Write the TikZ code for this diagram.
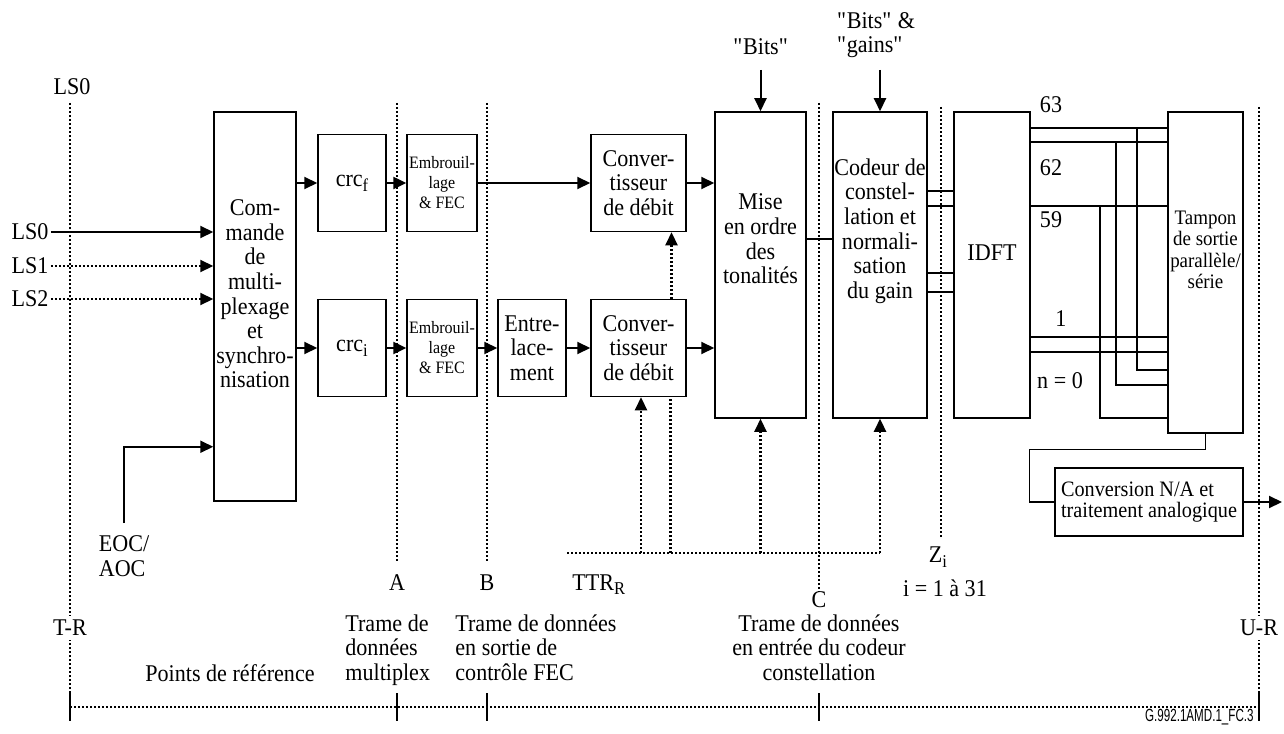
\documentclass[tikz,border=0pt]{standalone}
\usepackage{fontspec}
\setmainfont{Liberation Serif}[FakeStretch=0.92]
\newfontfamily\figfont{Liberation Sans}[FakeStretch=0.66]
\usetikzlibrary{arrows.meta,calc}
\newcommand{\lowsub}[1]{\raisebox{-0.45ex}{\fontsize{9}{9}\selectfont #1}}

\begin{document}
\begin{tikzpicture}[
  x=0.5pt, y=-0.5pt,
  every node/.style={font=\fontsize{12}{12.3}\selectfont},
  blk/.style={draw, line width=0.75pt, fill=white, align=center, inner sep=1pt},
  txt/.style={align=center, inner sep=1pt},
  wire/.style={line width=1pt},
  fine/.style={line width=0.6pt},
  arr/.style={wire, -{Triangle[length=6.5pt,width=6pt]}},
  dots/.style={line width=1.1pt, dash pattern=on 1pt off 1pt},
  dotarr/.style={dots, -{Triangle[length=6.5pt,width=6pt]}},
  smallfont/.style={font=\fontsize{8.7}{10}\selectfont},
  bufffont/.style={font=\fontsize{10.3}{10.7}\selectfont},
  dacfont/.style={font=\fontsize{11}{10.5}\selectfont},
]
  \useasboundingbox (0,0) rectangle (1284,733);

  % --- Reference points (dotted verticals) ---
  \foreach \x/\t/\b in {70/103/707, 397/103/563, 487/103/563,
                        819/103/592, 941/107/537, 1259/107/707}
    \draw[dots] (\x,\t) -- (\x,\b);
  \draw[dots] (70,707) -- (1259,707);
  \foreach \x in {70,397,487,819,1259}
    \draw[fine, line width=0.8pt] (\x,693) -- (\x,721);

  % --- Blocks ---
  \node[blk, minimum width=41pt, minimum height=194.5pt] (cmd) at (255,306.5) {};
  \node[blk, minimum width=34pt, minimum height=48.5pt] (crcf) at (352,183) {crc\lowsub{f}};
  \node[blk, minimum width=34pt, minimum height=48.5pt] (crci) at (352,348) {crc\lowsub{i}};
  \node[blk, smallfont, minimum width=34pt, minimum height=48.5pt] (embf) at (442,183) {Embrouil-\\lage\\\& FEC};
  \node[blk, smallfont, minimum width=34pt, minimum height=48.5pt] (embi) at (442,348) {Embrouil-\\lage\\\& FEC};
  \node[blk, minimum width=34pt, minimum height=48.5pt] (entrel) at (532,348) {Entre-\\lace-\\ment};
  \node[blk, minimum width=47.5pt, minimum height=48.5pt] (convf) at (638.5,183) {Conver-\\tisseur\\de débit};
  \node[blk, minimum width=47.5pt, minimum height=48.5pt] (convi) at (638.5,348) {Conver-\\tisseur\\de débit};
  \node[blk, minimum width=45.5pt, minimum height=153pt] (mise) at (760.5,265) {};
  \node[blk, minimum width=47pt, minimum height=153pt] (codeur) at (880,265) {};
  \node[blk, minimum width=38pt, minimum height=153pt] (idft) at (992,265) {};
  \node[blk, minimum width=37.5pt, minimum height=160.5pt] (tampon) at (1205.5,272.5) {};
  \node[blk, dacfont, align=left, minimum width=94pt, minimum height=34pt] (cna) at (1149,502)
    {Conversion N/A et\\traitement analogique};

  % --- Block texts ---
  \node[txt] (cmdtxt) at (255,294) {Com-\\mande\\de\\multi-\\plexage\\et\\synchro-\\nisation};
  \node[txt] (misetxt) at (760.5,239) {Mise\\en ordre\\des\\tonalités};
  \node[txt, inner sep=0pt] (codtxt) at (880,231) {Codeur de\\constel-\\lation et\\normali-\\sation\\du gain};
  \node[txt] (idfttxt) at (992,253) {IDFT};
  \node[txt, bufffont] (tamptxt) at (1205.5,250) {Tampon\\de sortie\\parallèle/\\série};

  % --- Inputs ---
  \node[txt] (lszero) at (72,87) {LS0};
  \node[txt] (ls0) at (30,232) {LS0};
  \node[txt] (ls1) at (30,266) {LS1};
  \node[txt] (ls2) at (30,299) {LS2};
  \draw[arr] (ls0.east) -- (ls0.east -| cmd.west);
  \draw[dotarr] (ls1.east) -- (ls1.east -| cmd.west);
  \draw[dotarr] (ls2.east) -- (ls2.east -| cmd.west);

  \node[txt, align=left] (eoc) at (124,556) {EOC/\\AOC};
  \coordinate (eocin) at ($(cmd.south west)+(0,-55)$);
  \draw[arr] ([yshift=5pt]eoc.north) |- (eocin);

  % --- Data paths ---
  \draw[arr] (cmd.east |- crcf) -- (crcf);
  \draw[arr] (cmd.east |- crci) -- (crci);
  \draw[arr] (crcf) -- (embf);
  \draw[arr] (crci) -- (embi);
  \draw[arr] (embf) -- (convf);
  \draw[arr] (embi) -- (entrel);
  \draw[arr] (entrel) -- (convi);
  \draw[arr] (convf) -- (convf -| mise.west);
  \draw[arr] (convi) -- (convi -| mise.west);
  \draw[wire] (mise.east |- 0,239) -- (codeur.west |- 0,239);
  \foreach \y in {191,206,273,292}
    \draw[wire] (codeur.east |- 0,\y) -- (idft.west |- 0,\y);
  \foreach \y in {128,142,206,337,352}
    \draw[wire] (idft.east |- 0,\y) -- (tampon.west |- 0,\y);
  \draw[fine] (1137,128) |- (tampon.west |- 0,370);
  \draw[fine] (1116,142) |- (tampon.west |- 0,385);
  \draw[fine] (1100,206) |- (tampon.west |- 0,418);
  \node[txt] (n63) at (1051,105) {63};
  \node[txt] (n62) at (1051,168) {62};
  \node[txt] (n59) at (1051,220) {59};
  \node[txt] (n1) at (1061,319) {1};
  \node[txt] (n0) at (1060,381) {n = 0};

  \draw[fine] (tampon.south) -- ++(0,16) -| ($(cna.west)+(-25,0)$) -- (cna.west);
  \coordinate (dacout) at (1282,502);
  \draw[arr] (cna.east) -- (dacout);

  % --- Bit tables ---
  \node[txt] (bits) at (761,47) {\textquotedbl Bits\textquotedbl};
  \node[txt, align=left] (bitsg) at (876,35)
    {\textquotedbl Bits\textquotedbl{} \&\\\textquotedbl gains\textquotedbl};
  \draw[arr] (mise.north |- 0,70) -- (mise.north);
  \draw[arr] (codeur.north |- 0,70) -- (codeur.north);

  % --- TTR_R control ---
  \coordinate (ttrw) at (567,553);
  \coordinate (ttre) at (codeur.south |- ttrw);
  \draw[dots] (ttrw) -- (ttre);
  \draw[dotarr] ([xshift=1.25pt]convi.south |- ttrw) -- ([xshift=1.25pt]convi.south);
  \draw[dots] ([xshift=16pt]convi.south |- ttrw) -- ([xshift=16pt]convi.south);
  \draw[dotarr] ([xshift=16.5pt]convi.north) -- ([xshift=16.5pt]convf.south);
  \draw[dotarr] (mise.south |- ttrw) -- (mise.south);
  \draw[dotarr] (ttre) -- (codeur.south);

  % --- Reference point labels ---
  \node[txt, anchor=base] (ptA) at (397,590) {A};
  \node[txt, anchor=base] (ptB) at (487,590) {B};
  \node[txt, anchor=base west] (ttr) at (570,590) {TTR\lowsub{R}};
  \node[txt] (ptC) at (819,600) {C};
  \node[txt] (zi) at (938,557) {Z\lowsub{i}};
  \node[txt] (zirange) at (945,588) {i = 1 à 31};
  \node[txt, fill=white, inner sep=2pt] (tr) at (70,628) {T-R};
  \node[txt, fill=white, inner sep=2pt] (ur) at (1259,628) {U-R};

  \node[txt, align=left, anchor=north west, inner sep=0pt] (frA) at (345,614)
    {Trame de\\données\\multiplex};
  \node[txt, align=left, anchor=north west, inner sep=0pt] (frB) at (455,614)
    {Trame de données\\en sortie de\\contrôle FEC};
  \node[txt, anchor=north, inner sep=0pt] (frC) at (819,614)
    {Trame de données\\en entrée du codeur\\constellation};
  \node[txt, anchor=base] (pref) at (230,681) {Points de référence};

  \node[anchor=base east, inner sep=0pt, font=\figfont\fontsize{8.8}{9}\selectfont] (figid)
    at (1254,721) {G.992.1AMD.1\_FC.3};

\end{tikzpicture}
\end{document}
